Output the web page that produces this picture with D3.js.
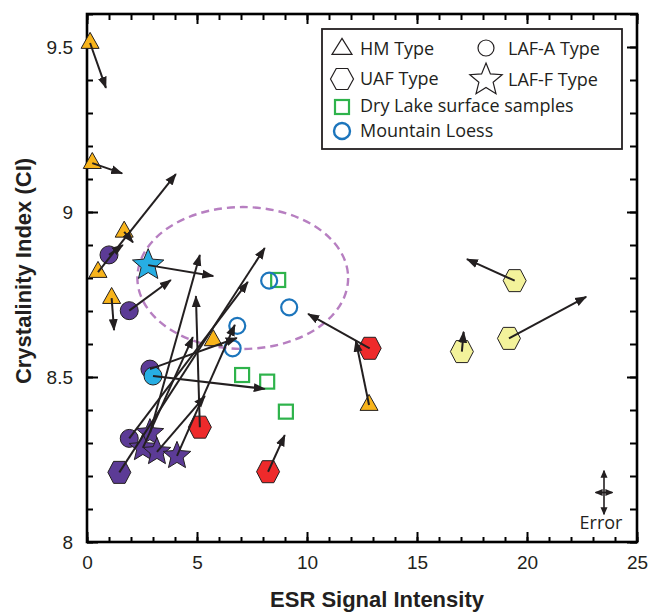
<!DOCTYPE html>
<html>
<head>
<meta charset="utf-8">
<script src="https://cdn.jsdelivr.net/npm/d3@7/dist/d3.min.js"></script>
<style>
  body { margin: 0; background: #fff; }
  svg { display: block; }
</style>
</head>
<body>
<svg width="651" height="612"></svg>
<script>
// each row: [ESR, CI, ESR at arrow tip, CI at arrow tip] (null = no arrow)
const hmType = [
  [0.14, 9.512, 0.86, 9.376],
  [0.24, 9.148, 1.60, 9.117],
  [1.69, 8.940, 2.09, 8.908],
  [0.50, 8.818, 4.04, 9.115],
  [1.12, 8.739, 1.23, 8.642],
  [5.74, 8.611, null, null],
  [12.82, 8.415, 12.22, 8.610]
];
const lafAPurple = [
  [1.00, 8.870, 1.63, 8.900],
  [1.92, 8.701, 3.81, 8.794],
  [2.86, 8.524, 6.81, 8.618],
  [1.92, 8.314, 7.31, 8.788]
];
const lafACyan = [
  [3.00, 8.503, 8.08, 8.464]
];
const lafFPurple = [
  [2.86, 8.330, 5.13, 8.870],
  [2.54, 8.285, 4.81, 8.621],
  [3.18, 8.273, 5.36, 8.442],
  [4.09, 8.261, 6.72, 8.658]
];
const lafFCyan = [
  [2.78, 8.839, 5.74, 8.806]
];
const uafPurple = [
  [1.47, 8.211, 8.08, 8.891]
];
const uafRed = [
  [5.13, 8.348, 4.95, 8.745],
  [8.23, 8.213, 8.99, 8.324],
  [12.85, 8.587, 10.05, 8.691]
];
const uafYellow = [
  [19.44, 8.792, 17.27, 8.857],
  [19.18, 8.617, 22.69, 8.743],
  [17.04, 8.577, 17.12, 8.637]
];
const dryLake = [
  [8.69, 8.794],
  [7.05, 8.506],
  [8.19, 8.486],
  [9.04, 8.395]
];
const mountainLoess = [
  [8.28, 8.792],
  [9.19, 8.711],
  [6.83, 8.655],
  [6.62, 8.587]
];
// dashed ellipse: centre and half axes in data units
const ellipse = { cx: 7.08, cy: 8.80, rx: 4.79, ry: 0.215 };
// error cross: centre and half lengths
const errorBar = { x: 23.5, y: 8.15, dx: 0.38, dy: 0.066 };

const xTicks = [0, 5, 10, 15, 20, 25];
const yTicks = [8, 8.5, 9, 9.5];

const svg = d3.select('svg');
const x = d3.scaleLinear().domain([0, 25]).range([87, 637]);
const y = d3.scaleLinear().domain([8, 9.6]).range([542, 14]);

// shape paths
function hexPath(w, h) {
  let p = d3.path();
  p.moveTo(-w, 0); p.lineTo(-w / 2, -h); p.lineTo(w / 2, -h);
  p.lineTo(w, 0); p.lineTo(w / 2, h); p.lineTo(-w / 2, h); p.closePath();
  return p.toString();
}
function starPath(R, r) {
  let p = d3.path();
  for (let i = 0; i < 10; i++) {
    let a = -Math.PI / 2 + i * Math.PI / 5, rr = i % 2 ? r : R;
    if (i === 0) p.moveTo(rr * Math.cos(a), rr * Math.sin(a));
    else p.lineTo(rr * Math.cos(a), rr * Math.sin(a));
  }
  p.closePath();
  return p.toString();
}
function triPath(w, h) {
  let p = d3.path();
  p.moveTo(0, -h * 2 / 3); p.lineTo(w / 2, h / 3); p.lineTo(-w / 2, h / 3); p.closePath();
  return p.toString();
}

// arrow head
let defs = svg.append('defs');
defs.append('marker')
  .attr('id', 'head')
  .attr('markerUnits', 'userSpaceOnUse')
  .attr('viewBox', '0 -5 12 10')
  .attr('refX', 11).attr('refY', 0)
  .attr('markerWidth', 12).attr('markerHeight', 10)
  .attr('orient', 'auto')
  .append('path').attr('d', 'M0,-4.5L12,0L0,4.5Z').attr('fill', '#231f20');
defs.append('marker')
  .attr('id', 'smallhead')
  .attr('markerUnits', 'userSpaceOnUse')
  .attr('viewBox', '0 -4 8 8')
  .attr('refX', 7).attr('refY', 0)
  .attr('markerWidth', 8).attr('markerHeight', 8)
  .attr('orient', 'auto')
  .append('path').attr('d', 'M0,-3.5L8,0L0,3.5Z').attr('fill', '#231f20');

// ellipse
svg.append('ellipse')
  .attr('cx', x(ellipse.cx)).attr('cy', y(ellipse.cy))
  .attr('rx', x(ellipse.cx + ellipse.rx) - x(ellipse.cx))
  .attr('ry', y(ellipse.cy) - y(ellipse.cy + ellipse.ry))
  .attr('fill', 'none').attr('stroke', '#b77fc1')
  .attr('stroke-width', 2.4).attr('stroke-dasharray', '8,5');

// axes: minor + major ticks on all four sides, pointing inward
function axisPair(axisFn, scale, minor, major, big, small, pos, labels) {
  let gMin = svg.append('g').attr('transform', pos)
    .call(axisFn(scale).tickValues(minor).tickSizeInner(-small).tickSizeOuter(0).tickFormat(''));
  let gMaj = svg.append('g').attr('transform', pos)
    .call(axisFn(scale).tickValues(major).tickSizeInner(-big).tickSizeOuter(0)
      .tickPadding(labels ? labels : 3).tickFormat(labels ? d => d : ''));
  [gMin, gMaj].forEach(g => {
    g.select('.domain').remove();
    g.selectAll('.tick line').attr('stroke', '#000').attr('stroke-width', 2);
  });
  gMaj.selectAll('text').attr('font-family', 'Liberation Sans, Arial, sans-serif')
    .attr('font-size', 19).attr('fill', '#231f20');
  return gMaj;
}
const xMinor = d3.range(0, 26, 1);
const yMinor = d3.range(80, 97).map(d => d / 10);
axisPair(d3.axisBottom, x, xMinor, xTicks, 10, 5, 'translate(0,542)', 14);
axisPair(d3.axisTop, x, xMinor, xTicks, 10, 6, 'translate(0,14)', 0);
axisPair(d3.axisLeft, y, yMinor, yTicks, 11, 6, 'translate(87,0)', 14);
axisPair(d3.axisRight, y, yMinor, yTicks, 10, 7, 'translate(637,0)', 0);

svg.append('rect')
  .attr('x', 87).attr('y', 14).attr('width', 550).attr('height', 528)
  .attr('fill', 'none').attr('stroke', '#000').attr('stroke-width', 2.6);

// axis titles
svg.append('text')
  .attr('x', 377).attr('y', 607)
  .attr('text-anchor', 'middle')
  .attr('font-family', 'Liberation Sans, Arial, sans-serif')
  .attr('font-weight', 'bold').attr('font-size', 22).attr('fill', '#231f20')
  .text('ESR Signal Intensity');
svg.append('text')
  .attr('transform', 'translate(31,271) rotate(-90)')
  .attr('text-anchor', 'middle')
  .attr('font-family', 'Liberation Sans, Arial, sans-serif')
  .attr('font-weight', 'bold').attr('font-size', 22).attr('fill', '#231f20')
  .text('Crystalinity Index (CI)');

// markers
function drawMarks(data, shape, fill) {
  svg.append('g').selectAll('path')
    .data(data).enter().append('path')
    .attr('transform', d => `translate(${x(d[0])},${y(d[1])})`)
    .attr('d', shape)
    .attr('fill', fill)
    .attr('stroke', '#231f20').attr('stroke-width', 1);
}
drawMarks(uafPurple, hexPath(11.5, 11), '#5c3b96');
drawMarks(uafRed, hexPath(11.5, 11), '#ee2a2b');
drawMarks(uafYellow, hexPath(11.5, 11), '#f3f29b');
drawMarks(hmType, triPath(18, 16), '#f8b41b');
svg.append('g').selectAll('circle')
  .data(lafAPurple).enter().append('circle')
  .attr('cx', d => x(d[0])).attr('cy', d => y(d[1])).attr('r', 9)
  .attr('fill', '#5c3b96').attr('stroke', '#231f20').attr('stroke-width', 1);
svg.append('g').selectAll('circle')
  .data(lafACyan).enter().append('circle')
  .attr('cx', d => x(d[0])).attr('cy', d => y(d[1])).attr('r', 9)
  .attr('fill', '#27aee3').attr('stroke', '#231f20').attr('stroke-width', 1);
drawMarks(lafFPurple, starPath(14.5, 6.5), '#5c3b96');
drawMarks(lafFCyan, starPath(16.5, 7.4), '#27aee3');

svg.append('g').selectAll('rect')
  .data(dryLake).enter().append('rect')
  .attr('x', d => x(d[0]) - 7).attr('y', d => y(d[1]) - 7)
  .attr('width', 14).attr('height', 14)
  .attr('fill', 'none').attr('stroke', '#2eb34b').attr('stroke-width', 2.2);
svg.append('g').selectAll('circle')
  .data(mountainLoess).enter().append('circle')
  .attr('cx', d => x(d[0])).attr('cy', d => y(d[1])).attr('r', 8)
  .attr('fill', 'none').attr('stroke', '#1c75bc').attr('stroke-width', 2.2);

// arrows on top of the markers
const allArrows = [].concat(hmType, uafPurple, uafRed, uafYellow, lafAPurple, lafACyan, lafFPurple, lafFCyan)
  .filter(d => d[2] !== null);
svg.append('g').selectAll('line')
  .data(allArrows).enter().append('line')
  .attr('x1', d => x(d[0])).attr('y1', d => y(d[1]))
  .attr('x2', d => x(d[2])).attr('y2', d => y(d[3]))
  .attr('stroke', '#231f20').attr('stroke-width', 2)
  .attr('marker-end', 'url(#head)');

// error cross
let ex = x(errorBar.x), ey = y(errorBar.y);
let eg = svg.append('g').attr('stroke', '#231f20').attr('stroke-width', 1.6);
[[0, 0, 0, -1], [0, 0, 0, 1], [0, 0, -1, 0], [0, 0, 1, 0]].forEach(v => {
  eg.append('line')
    .attr('x1', ex).attr('y1', ey)
    .attr('x2', v[2] === 0 ? ex : x(errorBar.x + v[2] * errorBar.dx))
    .attr('y2', v[3] === 0 ? ey : y(errorBar.y - v[3] * errorBar.dy))
    .attr('marker-end', 'url(#smallhead)');
});
svg.append('text')
  .attr('x', ex - 3).attr('y', 529)
  .attr('text-anchor', 'middle')
  .attr('font-family', 'Open Sans, sans-serif').attr('font-size', 18).attr('fill', '#231f20')
  .text('Error');

// legend
let lg = svg.append('g');
lg.append('rect')
  .attr('x', 322).attr('y', 29).attr('width', 300).attr('height', 120)
  .attr('fill', '#fff').attr('stroke', '#231f20').attr('stroke-width', 1.8);
const legendItems = [
  { sx: 342, sy: 49, kind: 'tri', label: 'HM Type', tx: 360, ty: 55 },
  { sx: 486, sy: 48, kind: 'circ', label: 'LAF-A Type', tx: 508, ty: 55 },
  { sx: 342, sy: 79, kind: 'hex', label: 'UAF Type', tx: 360, ty: 85 },
  { sx: 486, sy: 80, kind: 'star', label: 'LAF-F Type', tx: 508, ty: 86 },
  { sx: 342, sy: 107, kind: 'sq', label: 'Dry Lake surface samples', tx: 360, ty: 112 },
  { sx: 342, sy: 131, kind: 'ml', label: 'Mountain Loess', tx: 360, ty: 137 }
];
legendItems.forEach(d => {
  let t = `translate(${d.sx},${d.sy})`;
  if (d.kind === 'tri') lg.append('path').attr('transform', t).attr('d', triPath(20, 16));
  if (d.kind === 'hex') lg.append('path').attr('transform', t).attr('d', hexPath(11.5, 10.5));
  if (d.kind === 'star') lg.append('path').attr('transform', t).attr('d', starPath(17, 7.5));
  if (d.kind === 'circ') lg.append('circle').attr('transform', t).attr('r', 8);
  if (d.kind === 'sq') lg.append('rect').attr('transform', t).attr('x', -7).attr('y', -7)
    .attr('width', 14).attr('height', 14).attr('class', 'sq');
  if (d.kind === 'ml') lg.append('circle').attr('transform', t).attr('r', 8).attr('class', 'ml');
  lg.append('text').attr('x', d.tx).attr('y', d.ty)
    .attr('font-family', 'Open Sans, sans-serif').attr('font-size', 18).attr('fill', '#231f20')
    .text(d.label);
});
lg.selectAll('path, circle, rect.sq')
  .attr('fill', 'none').attr('stroke', '#231f20').attr('stroke-width', 1.2);
lg.select('rect.sq').attr('stroke', '#2eb34b').attr('stroke-width', 2.2);
lg.select('circle.ml').attr('stroke', '#1c75bc').attr('stroke-width', 2.4);
</script>
</body>
</html>
